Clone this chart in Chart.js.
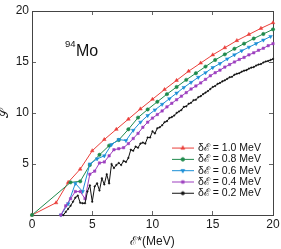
<!DOCTYPE html>
<html><head><meta charset="utf-8">
<script src="https://cdn.jsdelivr.net/npm/chart.js@4/dist/chart.umd.min.js"></script>
<style>html,body{margin:0;padding:0;background:#fff;overflow:hidden}</style>
</head><body>
<canvas id="c" width="281" height="249"></canvas>
<script>
const xTicks = [0, 5, 10, 15, 20];
const yTicks = [5, 10, 15, 20];
const seriesLabels = ['δℰ = 1.0 MeV', 'δℰ = 0.8 MeV', 'δℰ = 0.6 MeV', 'δℰ = 0.4 MeV', 'δℰ = 0.2 MeV'];

const redX = [0,2,3,4,5,6,7,8,9,10,11,12,13,14,15,16,17,18,19,20];
const redY = [0,1.2,3.2,4.5,6.3,7.4,8.4,9.4,10.4,11.35,12.3,13.2,14.1,14.9,15.7,16.4,17.1,17.7,18.3,18.85];

const greenX = [0,3.2,4.0,4.8,5.6,6.4,7.2,8.0,8.8,9.6,10.4,11.2,12.0,12.8,13.6,14.4,15.2,16.0,16.8,17.6,18.4,19.2,20.0];
const greenY = [0,3.2,3.3,4.9,5.9,6.8,7.35,8.4,9.55,10.35,11.1,11.85,12.55,13.25,13.9,14.55,15.2,15.75,16.3,16.8,17.3,17.75,18.2];

const blueX = [2.4,3.0,3.6,4.2,4.8,5.4,6.0,6.6,7.2,7.8,8.4,9.0,9.6,10.2,10.8,11.4,12.0,12.6,13.2,13.8,14.4,15.0,15.6,16.2,16.8,17.4,18.0,18.6,19.2,19.8];
const blueY = [0,1.1,3.1,2.3,5.0,5.5,5.8,6.9,7.4,7.3,8.3,9.1,9.75,10.3,10.85,11.4,11.95,12.5,13.0,13.5,13.95,14.45,14.85,15.3,15.7,16.1,16.45,16.8,17.15,17.5];

const purpleX = [2.4,2.8,3.2,3.6,4.0,4.4,4.8,5.2,5.6,6.0,6.4,6.8,7.2,7.6,8.0,8.4,8.8,9.2,9.6,10.0,10.4,10.8,11.2,11.6,12.0,12.4,12.8,13.2,13.6,14.0,14.4,14.8,15.2,15.6,16.0,16.4,16.8,17.2,17.6,18.0,18.4,18.8,19.2,19.6,20.0];
const purpleY = [0,0.9,1.6,2.3,2.3,1.6,4.0,4.3,5.1,5.2,5.8,6.4,6.5,6.6,7.0,7.5,8.0,8.6,9.1,9.5,9.85,10.2,10.6,10.95,11.3,11.65,12.0,12.35,12.65,12.95,13.3,13.65,13.95,14.2,14.5,14.75,15.0,15.25,15.45,15.7,15.9,16.15,16.35,16.6,16.8];

const blackX = [2.6,2.8,3.0,3.2,3.4,3.6,3.8,4.0,4.2,4.4,4.6,4.8,5.0,5.2,5.4,5.6,5.8,6.0,6.2,6.4,6.6,6.8,7.0,7.2,7.4,7.6,7.8,8.0,8.2,8.4,8.6,8.8,9.0,9.2,9.4,9.6,9.8,10.0,10.2,10.4,10.6,10.8,11.0,11.2,11.4,11.6,11.8,12.0,12.2,12.4,12.6,12.8,13.0,13.2,13.4,13.6,13.8,14.0,14.2,14.4,14.6,14.8,15.0,15.2,15.4,15.6,15.8,16.0,16.2,16.4,16.6,16.8,17.0,17.2,17.4,17.6,17.8,18.0,18.2,18.4,18.6,18.8,19.0,19.2,19.4,19.6,19.8,20.0];
const blackY = [0,0.3,0.6,0.9,1.3,1.7,1.9,1.2,1.15,1.15,2.3,2.9,1.3,2.8,3.1,2.4,3.6,3.0,4.0,3.1,5.0,4.6,4.9,5.1,4.9,5.3,5.2,5.6,6.4,6.3,6.7,6.6,7.0,7.1,7.0,7.6,7.6,8.2,8.0,8.5,8.6,8.8,9.1,9.2,9.5,9.6,9.75,10.0,10.15,10.3,10.6,10.65,10.9,11.0,11.25,11.3,11.55,11.65,11.85,12.0,12.15,12.35,12.55,12.65,12.85,12.95,13.1,13.2,13.35,13.5,13.55,13.75,13.85,13.9,14.05,14.15,14.2,14.35,14.45,14.5,14.65,14.75,14.8,14.95,15.05,15.1,15.2,15.3];

const colors = ['#ea3f3a', '#1f8a4c', '#1c8fd6', '#9d3fbf', '#111111'];
const styles = [
  {pointStyle:'triangle', radius:2.1, rotation:0},
  {pointStyle:'circle', radius:1.7, rotation:0},
  {pointStyle:'triangle', radius:2.1, rotation:180},
  {pointStyle:'rect', radius:1.7, rotation:0},
  {pointStyle:'circle', radius:0.8, rotation:0}
];
const seriesX = [redX, greenX, blueX, purpleX, blackX];
const seriesY = [redY, greenY, blueY, purpleY, blackY];

const datasets = seriesX.map((xs, i) => ({
  label: seriesLabels[i],
  data: xs.map((x, j) => ({x: x, y: seriesY[i][j]})),
  showLine: true,
  borderColor: colors[i],
  backgroundColor: colors[i],
  borderWidth: 1,
  pointStyle: styles[i].pointStyle,
  pointRadius: styles[i].radius,
  pointRotation: styles[i].rotation,
  pointBorderWidth: 0.5,
  clip: false,
  order: 5 - i
}));

function legendIcon(i) {
  const c = document.createElement('canvas');
  c.width = 22; c.height = 9;
  const g = c.getContext('2d');
  g.strokeStyle = colors[i]; g.fillStyle = colors[i]; g.lineWidth = 1;
  g.beginPath(); g.moveTo(0, 4.5); g.lineTo(22, 4.5); g.stroke();
  Chart.helpers.drawPoint(g, {pointStyle: styles[i].pointStyle, radius: Math.max(styles[i].radius, 1.5), rotation: styles[i].rotation, borderWidth: 0.5}, 11, 4.5);
  return c;
}
const icons = colors.map((_, i) => legendIcon(i));

const legendPlace = {
  id: 'legendPlace',
  afterLayout(chart) {
    const L = chart.legend;
    L.left = 172; L.right = 281; L.top = 142; L.bottom = 215;
    L.width = L.right - L.left; L.height = L.bottom - L.top;
  }
};

const moLabel = {
  id: 'moLabel',
  afterDraw(chart) {
    const ctx = chart.ctx, a = chart.chartArea;
    ctx.save();
    ctx.fillStyle = '#111';
    ctx.textBaseline = 'alphabetic';
    ctx.font = '9.5px "Liberation Sans"';
    ctx.fillText('94', a.left + 33, a.top + 36);
    ctx.font = '16px "Liberation Sans"';
    ctx.fillText('Mo', a.left + 44, a.top + 45);
    ctx.restore();
  }
};

const tickFont = {family: 'Liberation Sans', size: 12};
const frame = '#444';
function mirrorAxis(pos, ticks) {
  return {
    type: 'linear', position: pos, min: 0, max: 20,
    afterBuildTicks: s => { s.ticks = ticks.map(v => ({value: v})); },
    ticks: {display: false},
    grid: {drawOnChartArea: false, tickLength: -4, color: '#666', lineWidth: 1},
    border: {color: frame, width: 1},
    afterFit: s => { if (pos === 'top') s.height = 0; else s.width = 0; s.paddingLeft = 0; s.paddingRight = 0; s.paddingTop = 0; s.paddingBottom = 0; }
  };
}

new Chart(document.getElementById('c'), {
  type: 'scatter',
  data: {datasets: datasets},
  options: {
    responsive: false, animation: false, devicePixelRatio: 1, events: [],
    layout: {padding: {left: 0, right: 8, top: 11, bottom: 0}},
    plugins: {
      tooltip: {enabled: false},
      legend: {
        position: 'chartArea', align: 'start',
        labels: {
          usePointStyle: true, pointStyleWidth: 20, boxHeight: 9, padding: 0.8,
          font: {family: 'Liberation Sans', size: 10.5}, color: '#111',
          generateLabels: chart => chart.data.datasets.map((d, i) => ({
            text: d.label, pointStyle: icons[i], fillStyle: d.borderColor, strokeStyle: d.borderColor,
            lineWidth: 0, hidden: false, datasetIndex: i, fontColor: '#111'
          }))
        }
      }
    },
    scales: {
      x: {
        type: 'linear', position: 'bottom', min: 0, max: 20,
        afterBuildTicks: s => { s.ticks = xTicks.map(v => ({value: v})); },
        ticks: {font: tickFont, color: '#1a1a1a', padding: 6, maxRotation: 0, autoSkip: false},
        grid: {drawOnChartArea: false, tickLength: -4, color: '#666'},
        border: {color: frame, width: 1},
        title: {display: true, text: 'ℰ*(MeV)', font: {family: 'Liberation Sans', size: 12}, color: '#1a1a1a', padding: 0},
        afterFit: s => { s.height = 34; s.paddingLeft = 0; s.paddingRight = 0; }
      },
      y: {
        type: 'linear', position: 'left', min: 0, max: 20,
        afterBuildTicks: s => { s.ticks = yTicks.map(v => ({value: v})); },
        ticks: {font: tickFont, color: '#1a1a1a', padding: 7, autoSkip: false},
        grid: {drawOnChartArea: false, tickLength: -4, color: '#666'},
        border: {color: frame, width: 1},
        title: {display: true, text: '𝒮', font: {family: 'DejaVu Sans', size: 12}, color: '#1a1a1a', padding: {top: -2, bottom: 0}},
        afterFit: s => { s.width = 32; s.paddingTop = 0; s.paddingBottom = 0; }
      },
      x2: mirrorAxis('top', xTicks),
      y2: mirrorAxis('right', yTicks)
    }
  },
  plugins: [legendPlace, moLabel]
});
</script>
</body></html>
